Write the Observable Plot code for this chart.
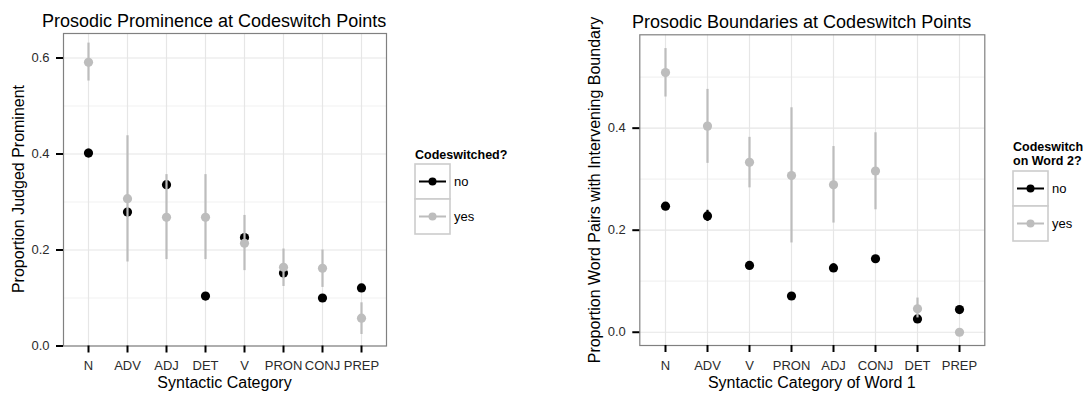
<!DOCTYPE html>
<html>
<head>
<meta charset="utf-8">
<script src="https://cdn.jsdelivr.net/npm/d3@7"></script>
<script src="https://cdn.jsdelivr.net/npm/@observablehq/plot@0.6"></script>
<style>
  html, body { margin: 0; padding: 0; background: #fff; }
  body { font-family: "Liberation Sans", Arial, Helvetica, sans-serif; color: #000; }
  #wrap { position: relative; width: 1086px; height: 393px; overflow: hidden; }
  .abs { position: absolute; white-space: nowrap; line-height: 1; }
  .plot { position: absolute; top: 0; }
</style>
</head>
<body>
<div id="wrap"></div>
<script>
// ---------- data: left panel (Prosodic Prominence) ----------
const catsL = ["N", "ADV", "ADJ", "DET", "V", "PRON", "CONJ", "PREP"];
const promNo    = [0.402, 0.279, 0.336, 0.104, 0.226, 0.152, 0.100, 0.121];
const promNoLo  = [0.395, 0.271, 0.329, 0.098, 0.219, 0.146, 0.094, 0.114];
const promNoHi  = [0.410, 0.287, 0.343, 0.110, 0.233, 0.158, 0.106, 0.128];
const promYes   = [0.591, 0.307, 0.268, 0.268, 0.214, 0.164, 0.162, 0.058];
const promYesLo = [0.552, 0.175, 0.180, 0.180, 0.157, 0.124, 0.122, 0.024];
const promYesHi = [0.631, 0.438, 0.357, 0.357, 0.272, 0.202, 0.200, 0.090];
const ticksL = [0, 0.2, 0.4, 0.6];
const minorL = [0.1, 0.3, 0.5];

// ---------- data: right panel (Prosodic Boundaries) ----------
const catsR = ["N", "ADV", "V", "PRON", "ADJ", "CONJ", "DET", "PREP"];
const bndNo    = [0.247, 0.228, 0.131, 0.071, 0.126, 0.144, 0.026, 0.0445];
const bndNoLo  = [0.241, 0.217, 0.126, 0.066, 0.118, 0.139, 0.020, 0.039];
const bndNoHi  = [0.253, 0.239, 0.136, 0.076, 0.134, 0.149, 0.032, 0.050];
const bndYes   = [0.509, 0.404, 0.333, 0.307, 0.289, 0.316, 0.046, 0.000];
const bndYesLo = [0.461, 0.331, 0.283, 0.175, 0.214, 0.240, 0.028, 0.000];
const bndYesHi = [0.556, 0.476, 0.382, 0.440, 0.364, 0.391, 0.067, 0.000];
const ticksR = [0, 0.2, 0.4];
const minorR = [0.1, 0.3, 0.5];

const groups = ["no", "yes"];
const colors = ["#000000", "#bdbdbd"];

const FONT = '"Liberation Sans", Arial, Helvetica, sans-serif';
const wrap = document.getElementById("wrap");

function rows(cats, v, lo, hi) {
  return cats.map((c, i) => ({cat: c, v: v[i], lo: lo[i], hi: hi[i]}));
}

function panel({cats, no, yes, domain, ticks, minor, width, mL, mR, mT, mB}) {
  return Plot.plot({
    width, height: 393,
    marginLeft: mL, marginRight: mR, marginTop: mT, marginBottom: mB,
    x: {type: "point", domain: cats, padding: 0.6, axis: null},
    y: {domain, axis: null},
    style: {fontFamily: FONT, fontSize: "13px", color: "#2b2b2b", background: "transparent", overflow: "visible"},
    marks: [
      Plot.ruleY(minor, {stroke: "#f2f2f2", strokeWidth: 1.2}),
      Plot.ruleY(ticks, {stroke: "#e6e6e6", strokeWidth: 1.2}),
      Plot.ruleX(cats, {stroke: "#e6e6e6", strokeWidth: 1.2}),
      Plot.ruleX(no, {x: "cat", y1: "lo", y2: "hi", stroke: colors[0], strokeWidth: 2.2}),
      Plot.dot(no, {x: "cat", y: "v", r: 4.6, fill: colors[0], stroke: "none"}),
      Plot.ruleX(yes, {x: "cat", y1: "lo", y2: "hi", stroke: colors[1], strokeWidth: 2.2}),
      Plot.dot(yes, {x: "cat", y: "v", r: 4.6, fill: colors[1], stroke: "none"}),
      Plot.frame({stroke: "#808080", strokeWidth: 1.2}),
      Plot.axisY({ticks, tickFormat: d3.format(".1f"), tickSize: 7, tickPadding: 7, strokeWidth: 2, stroke: "#000", label: null}),
      Plot.axisX({tickSize: 7, tickPadding: 8, strokeWidth: 2, stroke: "#000", label: null})
    ]
  });
}

const left = panel({
  cats: catsL,
  no: rows(catsL, promNo, promNoLo, promNoHi),
  yes: rows(catsL, promYes, promYesLo, promYesHi),
  domain: [0, 0.651], ticks: ticksL, minor: minorL,
  width: 400, mL: 63, mR: 14, mT: 33, mB: 47.5
});
left.classList.add("plot");
left.style.left = "0px";
wrap.appendChild(left);

const right = panel({
  cats: catsR,
  no: rows(catsR, bndNo, bndNoLo, bndNoHi),
  yes: rows(catsR, bndYes, bndYesLo, bndYesHi),
  domain: [-0.026, 0.583], ticks: ticksR, minor: minorR,
  width: 450, mL: 99.3, mR: 5.7, mT: 34.3, mB: 48
});
right.classList.add("plot");
right.style.left = "540px";
wrap.appendChild(right);

// ---------- text ----------
function txt(s, x, y, size, opts = {}) {
  const d = document.createElement("div");
  d.className = "abs";
  d.textContent = s;
  d.style.fontSize = size + "px";
  d.style.left = x + "px";
  d.style.top = y + "px";
  if (opts.bold) d.style.fontWeight = "bold";
  let t = opts.center ? "translate(-50%,-50%)" : "translate(0,-50%)";
  if (opts.rotate) t += " rotate(-90deg)";
  d.style.transform = t;
  wrap.appendChild(d);
  return d;
}

txt("Prosodic Prominence at Codeswitch Points", 42, 20.8, 18);
txt("Prosodic Boundaries at Codeswitch Points", 632, 21.5, 18);
txt("Proportion Judged Prominent", 19, 189, 16, {center: true, rotate: true});
txt("Proportion Word Pairs with Intervening Boundary", 595, 190, 16, {center: true, rotate: true});
txt("Syntactic Category", 224.5, 382.5, 16, {center: true});
txt("Syntactic Category of Word 1", 811.8, 383, 16, {center: true});

// ---------- legends ----------
function legend(x, yTop, titleLines, titleY) {
  titleLines.forEach((t, i) => txt(t, x, titleY + i * 14.5, 12.5, {bold: true}));
  const ns = "http://www.w3.org/2000/svg";
  const svg = document.createElementNS(ns, "svg");
  svg.setAttribute("width", 38);
  svg.setAttribute("height", 74);
  svg.style.position = "absolute";
  svg.style.left = (x - 1) + "px";
  svg.style.top = (yTop - 1) + "px";
  groups.forEach((g, i) => {
    const y0 = 1 + i * 35;
    const r = document.createElementNS(ns, "rect");
    r.setAttribute("x", 1); r.setAttribute("y", y0);
    r.setAttribute("width", 35); r.setAttribute("height", 35);
    r.setAttribute("fill", "#fff"); r.setAttribute("stroke", "#cccccc"); r.setAttribute("stroke-width", 1.6);
    svg.appendChild(r);
    const l = document.createElementNS(ns, "line");
    l.setAttribute("x1", 5); l.setAttribute("x2", 32);
    l.setAttribute("y1", y0 + 17.5); l.setAttribute("y2", y0 + 17.5);
    l.setAttribute("stroke", colors[i]); l.setAttribute("stroke-width", 2);
    svg.appendChild(l);
    const c = document.createElementNS(ns, "circle");
    c.setAttribute("cx", 18.5); c.setAttribute("cy", y0 + 17.5); c.setAttribute("r", 4);
    c.setAttribute("fill", colors[i]);
    svg.appendChild(c);
    txt(g, x + 39, yTop + i * 35 + 17, 13);
  });
  wrap.appendChild(svg);
}
legend(415, 164, ["Codeswitched?"], 154.5);
legend(1013, 170.7, ["Codeswitch", "on Word 2?"], 146.5);
</script>
</body>
</html>
